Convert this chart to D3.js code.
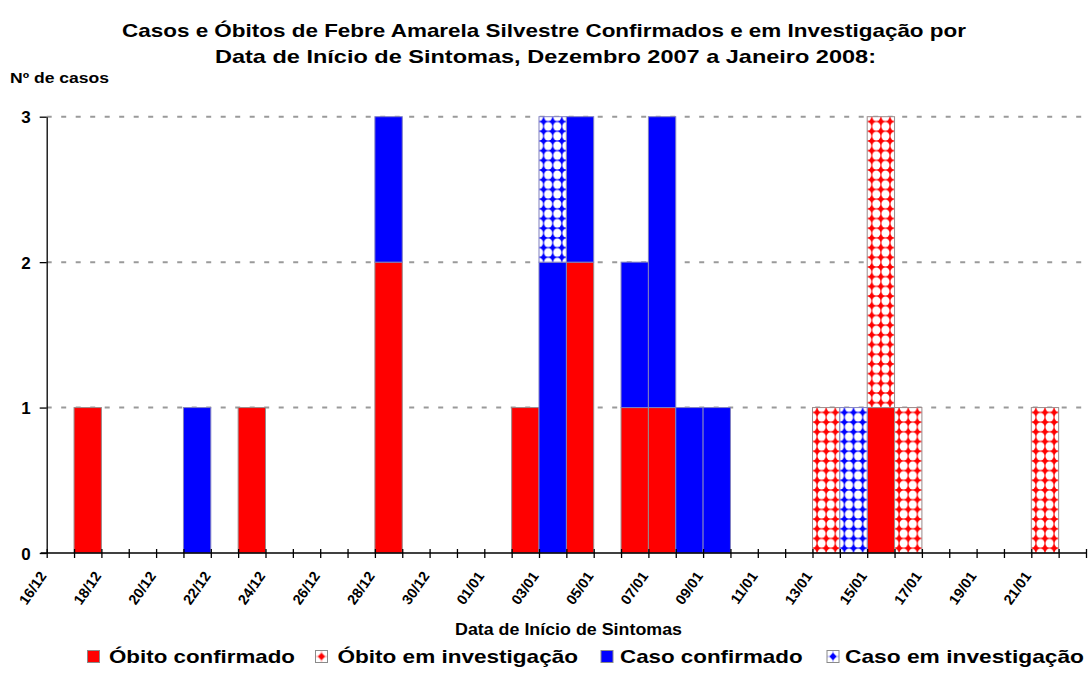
<!DOCTYPE html>
<html>
<head>
<meta charset="utf-8">
<script src="https://cdn.jsdelivr.net/npm/d3@7"></script>
<style>
  html, body { margin: 0; padding: 0; background: #fff; }
  svg { display: block; font-family: "Liberation Sans", Arial, sans-serif; }
</style>
</head>
<body>
<svg id="chart" width="1089" height="673"></svg>
<script>
// ---- data ----
const dates = ["2007-12-17","2007-12-21","2007-12-23","2007-12-28","2008-01-02","2008-01-03","2008-01-04","2008-01-06","2008-01-07","2008-01-08","2008-01-09","2008-01-13","2008-01-14","2008-01-15","2008-01-16","2008-01-21"];
const obitoConfirmado   = [1,0,1,2,1,0,2,1,1,0,0,0,0,1,0,0];
const obitoInvestigacao = [0,0,0,0,0,0,0,0,0,0,0,1,0,2,1,1];
const casoConfirmado    = [0,1,0,1,0,2,1,1,2,1,1,0,0,0,0,0];
const casoInvestigacao  = [0,0,0,0,0,1,0,0,0,0,0,0,1,0,0,0];
const seriesNames = ["Óbito confirmado","Óbito em investigação","Caso confirmado","Caso em investigação"];
const yTicks = [0,1,2,3];
const axisStart = "2007-12-16", axisEnd = "2008-01-23";
const titleLines = ["Casos e Óbitos de Febre Amarela Silvestre Confirmados e em Investigação por",
                    "Data de Início de Sintomas, Dezembro 2007 a Janeiro 2008:"];
const yTitle = "Nº de casos";
const xTitle = "Data de Início de Sintomas";

// ---- setup ----
const svg = d3.select("#chart");
const parse = d3.utcParse("%Y-%m-%d");
const fmt = d3.utcFormat("%d/%m");
const x = d3.scaleUtc().domain([parse(axisStart), parse(axisEnd)]).range([46.7, 1086]);
const y = d3.scaleLinear().domain([0, 3]).range([553, 116.7]);

const RED = "#ff0000", BLUE = "#0000ff";
const dayW = x(parse("2007-12-17")) - x(parse("2007-12-16"));
const tileW = dayW / 3, tileH = (y(0) - y(1)) / 15;

const defs = svg.append("defs");
function makePattern(id, color) {
  const p = defs.append("pattern").attr("id", id)
    .attr("patternUnits", "userSpaceOnUse")
    .attr("width", tileW).attr("height", tileH)
    .attr("x", x.range()[0]).attr("y", y(0));
  p.append("rect").attr("width", tileW).attr("height", tileH).attr("fill", color);
  const rx = tileW / 2 - 0.45, ry = tileH / 2 - 0.55;
  [[0,0],[tileW,0],[0,tileH],[tileW,tileH]].forEach(([cx, cy]) =>
    p.append("ellipse").attr("cx", cx).attr("cy", cy).attr("rx", rx).attr("ry", ry).attr("fill", "#fff"));
}
makePattern("patRed", RED);
makePattern("patBlue", BLUE);
// legend-size patterns
function legendPattern(id, color) {
  const p = defs.append("pattern").attr("id", id)
    .attr("patternUnits", "objectBoundingBox").attr("width", 1).attr("height", 1);
  p.append("rect").attr("width", 12).attr("height", 12).attr("fill", "#fff");
  p.append("path").attr("d", "M6,2.3L9.7,6L6,9.7L2.3,6Z").attr("fill", color);
  p.append("rect").attr("x", 0).attr("y", 5.5).attr("width", 12).attr("height", 1).attr("fill", color).attr("opacity", 0.35);
  p.append("rect").attr("x", 5.5).attr("y", 0).attr("width", 1).attr("height", 12).attr("fill", color).attr("opacity", 0.35);
}
legendPattern("legRed", RED);
legendPattern("legBlue", BLUE);

const fills = [RED, "url(#patRed)", BLUE, "url(#patBlue)"];
const legFills = [RED, "url(#legRed)", BLUE, "url(#legBlue)"];

// ---- gridlines ----
svg.append("g").selectAll("line").data(yTicks.filter(d => d > 0)).join("line")
  .attr("x1", x.range()[0]).attr("x2", x.range()[1])
  .attr("y1", d => y(d)).attr("y2", d => y(d))
  .attr("stroke", "#9a9a9a").attr("stroke-width", 2).attr("stroke-dasharray", "5,9.5");

// ---- bars ----
const table = dates.map((d, i) => ({
  date: parse(d),
  [seriesNames[0]]: obitoConfirmado[i],
  [seriesNames[1]]: obitoInvestigacao[i],
  [seriesNames[2]]: casoConfirmado[i],
  [seriesNames[3]]: casoInvestigacao[i]
}));
const stacked = d3.stack().keys(seriesNames)(table);
const barG = svg.append("g");
stacked.forEach((s, si) => {
  barG.append("g").selectAll("rect").data(s.filter(d => d[1] > d[0])).join("rect")
    .attr("x", d => x(d.data.date))
    .attr("width", d => x(d3.utcDay.offset(d.data.date, 1)) - x(d.data.date))
    .attr("y", d => y(d[1]))
    .attr("height", d => y(d[0]) - y(d[1]))
    .attr("fill", fills[si])
    .attr("stroke", si === 2 || si === 3 ? "#8080c0" : "#9a8a8a")
    .attr("stroke-width", 1);
});

// ---- axes ----
const allDays = d3.utcDay.range(parse(axisStart), d3.utcDay.offset(parse(axisEnd), 1));
const xAxis = d3.axisBottom(x).tickValues(allDays)
  .tickFormat((d, i) => i % 2 === 0 && i < allDays.length - 1 ? fmt(d) : "")
  .tickSizeInner(5).tickSizeOuter(0).tickPadding(0);
const gx = svg.append("g").attr("transform", `translate(0,${y(0)})`).call(xAxis);
gx.select(".domain").attr("stroke", "#000").attr("stroke-width", 1.3);
gx.selectAll(".tick line").attr("y1", -4).attr("y2", 5).attr("stroke", "#000").attr("stroke-width", 1.3);
gx.selectAll(".tick text")
  .attr("font-size", 14.5).attr("font-weight", "bold").attr("fill", "#000")
  .attr("text-anchor", "end").attr("dy", null).attr("y", 0)
  .attr("transform", "translate(0,23) rotate(-55)");

const yAxis = d3.axisLeft(y).tickValues(yTicks).tickFormat(d3.format("d"))
  .tickSizeInner(7).tickSizeOuter(0).tickPadding(9);
const gy = svg.append("g").attr("transform", `translate(${x.range()[0]},0)`).call(yAxis);
gy.select(".domain").attr("stroke", "#000").attr("stroke-width", 1.3);
gy.selectAll(".tick line").attr("stroke", "#000").attr("stroke-width", 1.3);
gy.selectAll(".tick text").attr("font-size", 17).attr("font-weight", "bold").attr("fill", "#000")
  .attr("dy", "0.36em");
gx.select(".domain").attr("d", `M${x.range()[0] - 6},0H${x.range()[1]}`);

// ---- titles ----
function fitText(sel, target) {
  sel.attr("textLength", target).attr("lengthAdjust", "spacingAndGlyphs");
}
svg.append("text").text(titleLines[0]).attr("x", 122).attr("y", 36.5)
  .attr("font-size", 19).attr("font-weight", "bold").call(fitText, 844);
svg.append("text").text(titleLines[1]).attr("x", 215).attr("y", 63)
  .attr("font-size", 19).attr("font-weight", "bold").call(fitText, 661);
svg.append("text").text(yTitle).attr("x", 10).attr("y", 83)
  .attr("font-size", 15).attr("font-weight", "bold").call(fitText, 99);
svg.append("text").text(xTitle).attr("x", 455).attr("y", 635)
  .attr("font-size", 16.5).attr("font-weight", "bold").call(fitText, 227);

// ---- legend ----
const legItems = [
  { box: 87.5, tx: 109, tw: 186 },
  { box: 315.5, tx: 337.5, tw: 240.5 },
  { box: 601, tx: 620, tw: 182.6 },
  { box: 827, tx: 845, tw: 239 }
];
const leg = svg.append("g");
legItems.forEach((it, i) => {
  leg.append("rect").attr("x", it.box).attr("y", 650.5).attr("width", 12).attr("height", 12)
    .attr("fill", legFills[i]).attr("stroke", "#8a8a8a").attr("stroke-width", 1);
  leg.append("text").text(seriesNames[i]).attr("x", it.tx).attr("y", 662.5)
    .attr("font-size", 19).attr("font-weight", "bold").call(fitText, it.tw);
});
</script>
</body>
</html>
